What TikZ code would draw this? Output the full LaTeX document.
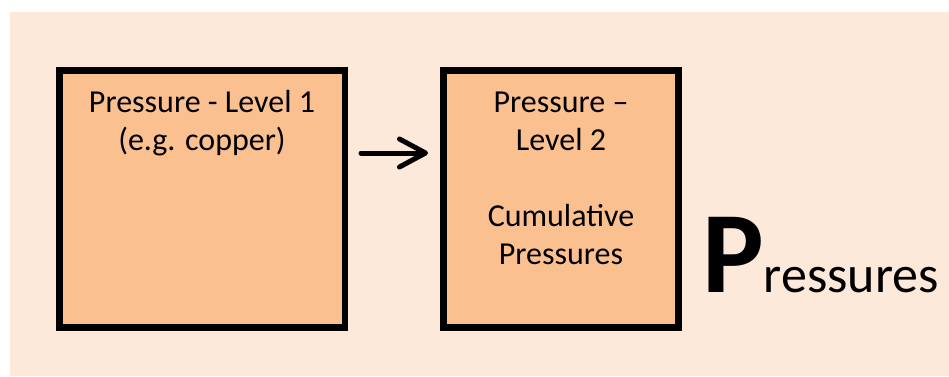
\documentclass[tikz,border=0pt]{standalone}
\usepackage{fontspec}
\setmainfont{Carlito}
\usetikzlibrary{arrows.meta}
\definecolor{bgpeach}{HTML}{FDE9D9}
\definecolor{boxorange}{HTML}{FAC090}
\tikzset{
  x=1pt,y=1pt,
  pbox/.style={draw=black,line width=6.5pt,fill=boxorange,inner sep=0pt},
  boxtext/.style={anchor=base,inner sep=0pt,font=\fontsize{32}{38}\selectfont},
  flowarrow/.style={line width=5pt,line cap=round,-{Straight Barb[length=26pt,width=28pt,line cap=round,line join=round]}}
}
\begin{document}
\begin{tikzpicture}
\useasboundingbox (0,0) rectangle (949,376);
\fill[bgpeach] (10,0) rectangle (949,364);
\node[pbox,minimum width=285.5pt,minimum height=257pt] (box1) at (202.25,177) {};
\node[pbox,minimum width=235pt,minimum height=257pt] (box2) at (561,177) {};
\node[boxtext] (b1l1) at (202,264) {Pressure - Level 1};
\node[boxtext] (b1l2) at (202,226) {(e.g. copper)};
\node[boxtext] (b2l1) at (561,264) {Pressure –};
\node[boxtext] (b2l2) at (561,226) {Level 2};
\node[boxtext] (b2l3) at (561,150) {Cumulative};
\node[boxtext] (b2l4) at (561,112) {Pressures};
\coordinate (arrs) at (361,223);
\coordinate (arre) at (428,223);
\draw[flowarrow] (arrs) -- (arre);
\node[anchor=base west,inner sep=0pt] (big) at (702,84) {{\fontsize{116}{116}\selectfont\bfseries P}{\fontsize{52}{52}\selectfont ressures}};
\end{tikzpicture}
\end{document}
